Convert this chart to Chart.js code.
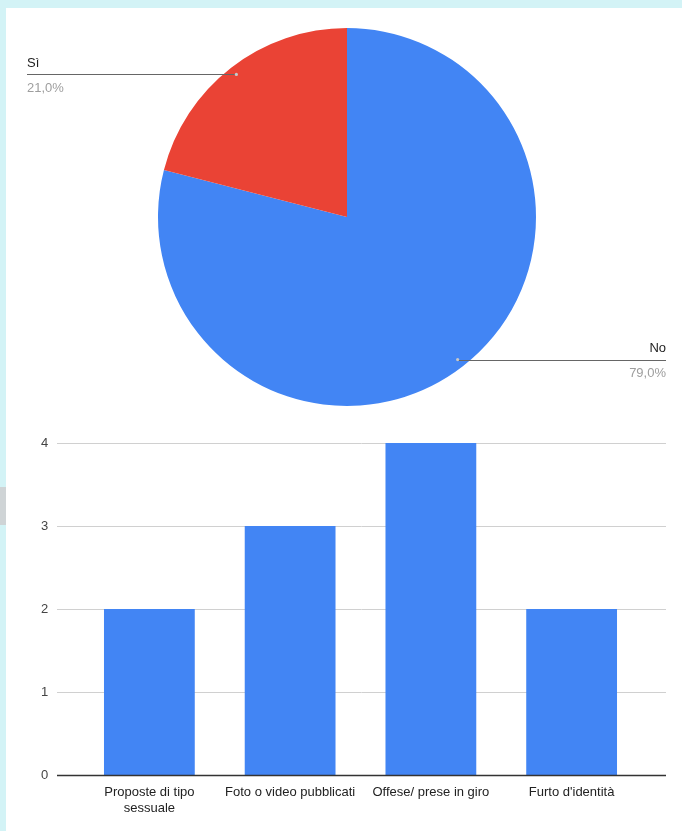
<!DOCTYPE html>
<html>
<head>
<meta charset="utf-8">
<script src="https://cdn.jsdelivr.net/npm/chart.js@4.4.1/dist/chart.umd.min.js"></script>
<style>
  html, body { margin: 0; padding: 0; }
  body { width: 682px; height: 831px; background: #d3f3f6; position: relative; overflow: hidden; }
  #panel { position: absolute; left: 6px; top: 8px; width: 676px; height: 823px; background: #ffffff; }
  #grey { position: absolute; left: 0; top: 487px; width: 6px; height: 38px; background: #cfd4d6; }
  #pieWrap { position: absolute; left: 6px; top: 8px; width: 676px; height: 412px; }
  #barWrap { position: absolute; left: 6px; top: 420px; width: 676px; height: 411px; }
</style>
</head>
<body>
<div id="panel"></div>
<div id="grey"></div>
<div id="pieWrap"><canvas id="pie" width="676" height="412"></canvas></div>
<div id="barWrap"><canvas id="bar" width="676" height="411"></canvas></div>
<script>
// ---- data ----
const pieLabels = ['No', 'Sì'];
const pieValues = [79.0, 21.0];
const pieColors = ['#4285f4', '#ea4335'];

const barCategories = [['Proposte di tipo', 'sessuale'], 'Foto o video pubblicati', 'Offese/ prese in giro', "Furto d'identità"];
const barValues = [2, 3, 4, 2];
const yTicks = [0, 1, 2, 3, 4];

const FONT = '"Liberation Sans", Arial, sans-serif';

// ---- pie labels plugin ----
const pieLabelPlugin = {
  id: 'pieLabels',
  afterDatasetsDraw(chart) {
    const ctx = chart.ctx;
    const meta = chart.getDatasetMeta(0);
    const total = pieValues.reduce((a, b) => a + b, 0);
    meta.data.forEach((arc, i) => {
      const mid = (arc.startAngle + arc.endAngle) / 2;
      const r = arc.outerRadius * 0.955;
      const dx = arc.x + Math.cos(mid) * r;
      const dy = arc.y + Math.sin(mid) * r;
      const left = Math.cos(mid) < 0;
      const endX = left ? 21 : 660;
      ctx.save();
      ctx.strokeStyle = '#666666';
      ctx.lineWidth = 1;
      ctx.beginPath();
      ctx.moveTo(dx, Math.round(dy) + 0.5);
      ctx.lineTo(endX, Math.round(dy) + 0.5);
      ctx.stroke();
      ctx.fillStyle = '#c9c9c9';
      ctx.beginPath();
      ctx.arc(dx, dy, 1.6, 0, Math.PI * 2);
      ctx.fill();
      ctx.font = '13px ' + FONT;
      ctx.textAlign = left ? 'left' : 'right';
      ctx.textBaseline = 'middle';
      ctx.fillStyle = '#222222';
      ctx.fillText(pieLabels[i], endX, dy - 11);
      ctx.fillStyle = '#9e9e9e';
      const pct = (pieValues[i] / total * 100).toFixed(1).replace('.', ',') + '%';
      ctx.fillText(pct, endX, dy + 14);
      ctx.restore();
    });
  }
};

new Chart(document.getElementById('pie'), {
  type: 'pie',
  data: {
    labels: pieLabels,
    datasets: [{ data: pieValues, backgroundColor: pieColors, borderWidth: 0 }]
  },
  options: {
    responsive: false,
    animation: false,
    layout: { padding: { left: 152, right: 146, top: 20, bottom: 14 } },
    plugins: { legend: { display: false }, tooltip: { enabled: false } }
  },
  plugins: [pieLabelPlugin]
});

// ---- bar gridlines plugin ----
const gridPlugin = {
  id: 'wideGrid',
  beforeDatasetsDraw(chart) {
    const ctx = chart.ctx;
    const y = chart.scales.y;
    ctx.save();
    ctx.lineWidth = 1;
    ctx.strokeStyle = '#d0d0d0';
    yTicks.forEach(v => {
      if (v === 0) return;
      const py = Math.round(y.getPixelForValue(v)) + 0.5;
      ctx.beginPath();
      ctx.moveTo(51, py);
      ctx.lineTo(660, py);
      ctx.stroke();
    });
    ctx.restore();
  },
  afterDatasetsDraw(chart) {
    const ctx = chart.ctx;
    const y = chart.scales.y;
    const py = Math.round(y.getPixelForValue(0)) + 0.5;
    ctx.save();
    ctx.lineWidth = 1.3;
    ctx.strokeStyle = '#333333';
    ctx.beginPath();
    ctx.moveTo(51, py);
    ctx.lineTo(660, py);
    ctx.stroke();
    ctx.restore();
  }
};

new Chart(document.getElementById('bar'), {
  type: 'bar',
  data: {
    labels: barCategories,
    datasets: [{ data: barValues, backgroundColor: '#4285f4', borderWidth: 0, categoryPercentage: 1, barPercentage: 0.645 }]
  },
  options: {
    responsive: false,
    animation: false,
    layout: { padding: { left: 35, right: 40, top: 23, bottom: 0 } },
    plugins: { legend: { display: false }, tooltip: { enabled: false } },
    scales: {
      x: {
        grid: { display: false, drawTicks: false },
        border: { display: false },
        ticks: { color: '#222222', font: { family: FONT, size: 13 }, padding: 10, maxRotation: 0, autoSkip: false },
        afterFit(s) { s.height = 56; }
      },
      y: {
        min: 0, max: 4,
        grid: { display: false, drawTicks: false },
        border: { display: false },
        ticks: { stepSize: 1, color: '#444444', font: { family: FONT, size: 13 }, padding: 0, crossAlign: 'far' },
        afterFit(s) { s.width = 38; }
      }
    }
  },
  plugins: [gridPlugin]
});
</script>
</body>
</html>
